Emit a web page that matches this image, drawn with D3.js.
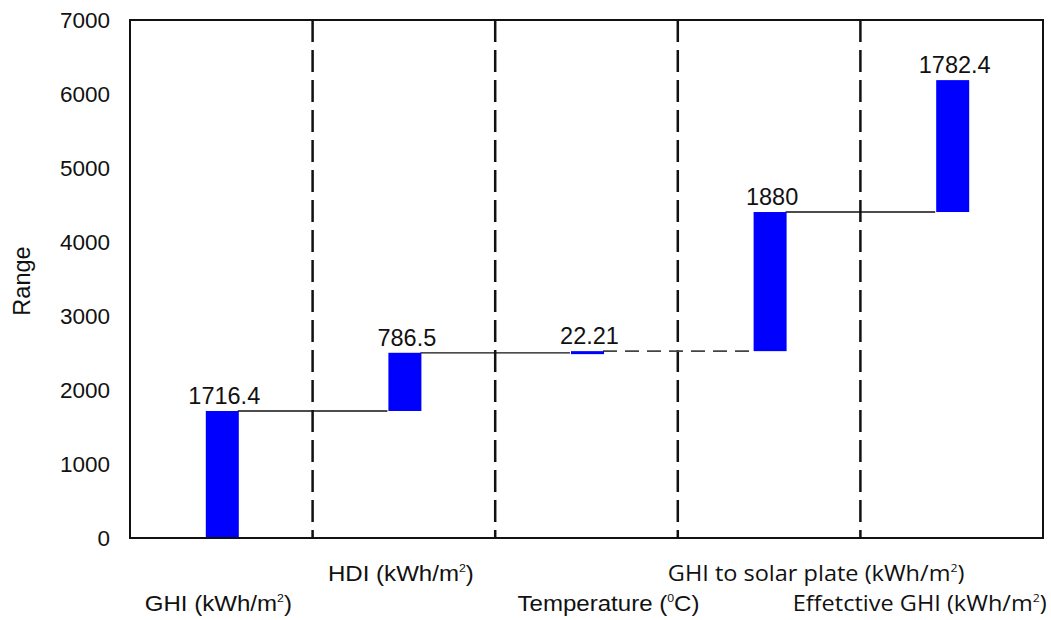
<!DOCTYPE html>
<html>
<head>
<meta charset="utf-8">
<script src="https://cdn.jsdelivr.net/npm/d3@7"></script>
<style>
  body { margin: 0; background: #fff; }
  text { font-family: "Liberation Sans", Arial, sans-serif; fill: #111; }
</style>
</head>
<body>
<div id="data-viz"></div>
<script>
// data
var categories = ["GHI (kWh/m²)", "HDI (kWh/m²)", "Temperature (°C)", "GHI to solar plate (kWh/m²)", "Effetctive GHI (kWh/m²)"];
var labelNames = ["GHI (kWh/m", "HDI (kWh/m", "Temperature (", "GHI to solar plate (kWh/m", "Effetctive GHI (kWh/m"];
var labelSups = ["2", "2", "0", "2", "2"];
var labelTails = [")", ")", "C)", ")", ")"];
var increments = [1716.4, 786.5, 22.21, 1880, 1782.4];
var valueLabels = ["1716.4", "786.5", "22.21", "1880", "1782.4"];
var yTicks = [0, 1000, 2000, 3000, 4000, 5000, 6000, 7000];

// label layout (offset from band centre, row)
var labelDx = [-3, -3, 22, 47, -32];
var labelRow = [1, 0, 1, 0, 1];
var labelFont = ["Liberation Sans", "Liberation Sans", "Liberation Sans", "Open Sans", "Open Sans"];
var labelSize = [21.5, 21.5, 21.5, 21, 21];

var width = 1051, height = 620;
var margin = { top: 20, right: 8, bottom: 82, left: 130 };
var innerW = width - margin.left - margin.right,
    innerH = height - margin.top - margin.bottom;

var svg = d3.select("#data-viz").append("svg")
    .attr("width", width)
    .attr("height", height);
var g = svg.append("g")
    .attr("transform", "translate(" + margin.left + "," + margin.top + ")");

// cumulative steps
var steps = [];
var run = 0;
for (var i = 0; i < increments.length; i++) {
    steps.push({ cat: categories[i], start: run, end: run + increments[i], label: valueLabels[i], i: i });
    run += increments[i];
}

var x = d3.scaleBand().domain(categories).range([0, innerW]).padding(0);
var y = d3.scaleLinear().domain([0, 7000]).range([innerH, 0]);
var barW = 33;

// y axis labels
g.append("g")
    .call(d3.axisLeft(y).tickValues(yTicks).tickFormat(d3.format("d")).tickSize(0).tickPadding(20))
    .call(function (a) { a.select(".domain").remove(); })
    .selectAll("text")
    .style("font-size", "22.5px")
    .style("font-family", "Liberation Sans, Arial, sans-serif")
    .attr("fill", "#111");

svg.append("text")
    .attr("transform", "translate(30," + (margin.top + innerH / 2 + 2) + ") rotate(-90)")
    .attr("text-anchor", "middle")
    .style("font-size", "23.5px")
    .text("Range");

// dashed separators
g.selectAll(".sep")
    .data(categories.slice(1))
    .enter().append("line")
    .attr("x1", function (d) { return x(d); })
    .attr("x2", function (d) { return x(d); })
    .attr("y1", 0).attr("y2", innerH)
    .attr("stroke", "#111")
    .attr("stroke-width", 2.5)
    .attr("stroke-dasharray", "22,8");

// connectors
g.selectAll(".conn")
    .data(steps.slice(0, steps.length - 1))
    .enter().append("line")
    .attr("x1", function (d) { return x(d.cat) + x.bandwidth() / 2 + barW / 2; })
    .attr("x2", function (d) { return x(categories[d.i + 1]) + x.bandwidth() / 2 - barW / 2; })
    .attr("y1", function (d) { return y(d.end); })
    .attr("y2", function (d) { return y(d.end); })
    .attr("stroke", function (d) { return d.i == 2 ? "#444" : "#111"; })
    .attr("stroke-width", function (d) { return d.i == 2 ? 1.6 : 1.3; })
    .attr("stroke-dasharray", function (d) { return d.i == 2 ? "14,8" : null; });

// bars
g.selectAll(".bar")
    .data(steps)
    .enter().append("rect")
    .attr("x", function (d) { return x(d.cat) + x.bandwidth() / 2 - barW / 2 + 1; })
    .attr("y", function (d) { return y(d.end); })
    .attr("width", barW)
    .attr("height", function (d) { return Math.max(3, y(d.start) - y(d.end)); })
    .attr("fill", "#0000ff");

// value labels
g.selectAll(".val")
    .data(steps)
    .enter().append("text")
    .attr("x", function (d) { return x(d.cat) + x.bandwidth() / 2 + 3; })
    .attr("y", function (d) { return y(d.end) - 7; })
    .attr("text-anchor", "middle")
    .style("font-size", "23.5px")
    .text(function (d) { return d.label; });

// frame: left, bottom, top, right
g.append("rect")
    .attr("x", 0).attr("y", 0)
    .attr("width", innerW).attr("height", innerH)
    .attr("fill", "none")
    .attr("stroke", "#111")
    .attr("stroke-width", 2);

// category labels (slightly stretched horizontally like the original)
var rowY = [margin.top + innerH + 43, margin.top + innerH + 73];
categories.forEach(function (c, i) {
    var cx = margin.left + x(c) + x.bandwidth() / 2 + labelDx[i];
    var t = svg.append("text")
        .attr("transform", "translate(" + cx + "," + rowY[labelRow[i]] + ") scale(1.12,1)")
        .attr("text-anchor", "middle")
        .style("font-size", labelSize[i] + "px")
        .style("font-family", labelFont[i] + ", sans-serif");
    t.append("tspan").text(labelNames[i]);
    t.append("tspan").attr("dy", -9).style("font-size", "11px").text(labelSups[i]);
    t.append("tspan").attr("dy", 9).text(labelTails[i]);
});
</script>
</body>
</html>
